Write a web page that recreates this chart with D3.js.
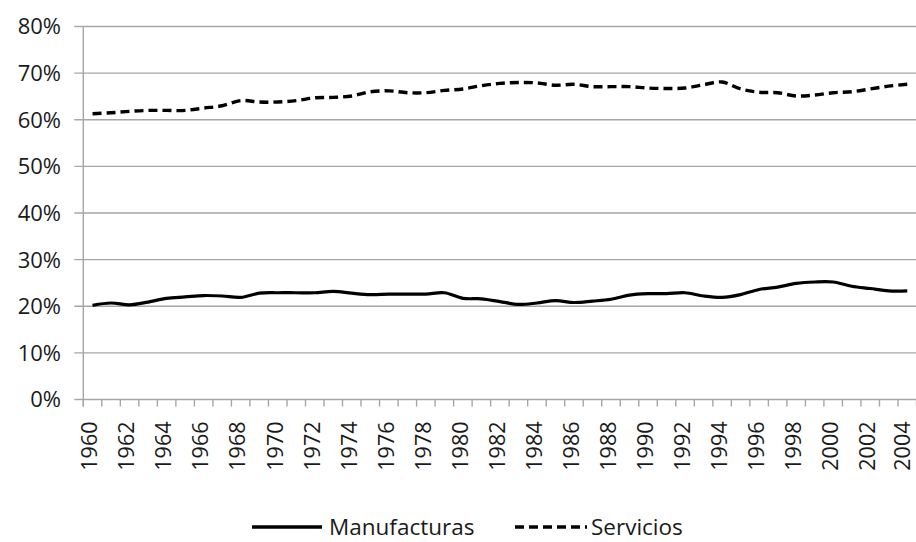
<!DOCTYPE html>
<html lang="es">
<head>
  <meta charset="UTF-8">
  <title>Manufacturas y Servicios</title>
  <script src="https://d3js.org/d3.v7.min.js"></script>
  <style>
    body {
      margin: 0;
      padding: 0;
      background: #fff;
      font-family: "Open Sans", "Noto Sans", sans-serif;
    }
    .tick-label { font-size: 22px; fill: #1a1a1a; }
    .year-label { font-size: 21.5px; fill: #1a1a1a; }
    .legend-label { font-size: 22.5px; fill: #1a1a1a; }
    .grid { stroke: #a6a6a6; stroke-width: 1.4; }
  </style>
</head>
<body>
  <svg id="chart" width="916" height="542"></svg>

  <script>
    const years = d3.range(1960, 2005);
    const yearLabels = years.filter(y => y % 2 === 0);
    const yTicks = [0, 0.1, 0.2, 0.3, 0.4, 0.5, 0.6, 0.7, 0.8];

    // shares, in percent
    const manufacturas = [
      20.2, 20.7, 20.3, 20.9, 21.7, 22.0, 22.3, 22.2, 21.9, 22.8,
      22.9, 22.9, 22.9, 23.2, 22.8, 22.5, 22.6, 22.6, 22.6, 22.9,
      21.7, 21.6, 21.0, 20.4, 20.7, 21.2, 20.8, 21.1, 21.5, 22.4,
      22.7, 22.7, 22.9, 22.2, 21.9, 22.5, 23.6, 24.1, 24.9, 25.2,
      25.2, 24.3, 23.8, 23.3, 23.3
    ];
    const servicios = [
      61.3, 61.5, 61.8, 62.0, 62.0, 62.0, 62.5, 63.0, 64.1, 63.8,
      63.8, 64.1, 64.7, 64.8, 65.1, 66.0, 66.2, 65.8, 65.8, 66.3,
      66.6, 67.3, 67.8, 68.0, 67.9, 67.4, 67.6, 67.1, 67.1, 67.1,
      66.8, 66.7, 66.8, 67.5, 68.1, 66.6, 65.9, 65.8, 65.1, 65.3,
      65.8, 66.0, 66.6, 67.2, 67.6
    ];

    const W = 916;
    const plotL = 83.3, plotR = 916.5, plotT = 26.5, plotB = 399.5;

    const svg = d3.select("#chart");

    const x = d3.scaleBand().domain(years).range([plotL, plotR]);
    const y = d3.scaleLinear().domain([0, 0.8]).range([plotB, plotT]);

    // gridlines (with small ticks left of the axis)
    svg.append("g")
      .selectAll("line")
      .data(yTicks)
      .enter().append("line")
      .attr("class", "grid")
      .attr("x1", plotL - 9)
      .attr("x2", plotR)
      .attr("y1", d => y(d))
      .attr("y2", d => y(d));

    svg.append("line")
      .attr("class", "grid")
      .attr("x1", plotL).attr("x2", plotL)
      .attr("y1", plotT).attr("y2", plotB + 7);

    // x ticks between categories
    const bounds = years.map(d => x(d)).concat([plotR]);
    svg.append("g")
      .selectAll("line")
      .data(bounds)
      .enter().append("line")
      .attr("class", "grid")
      .attr("x1", d => d).attr("x2", d => d)
      .attr("y1", plotB).attr("y2", plotB + 7);

    svg.append("g")
      .selectAll("text")
      .data(yTicks)
      .enter().append("text")
      .attr("class", "tick-label")
      .attr("x", 61)
      .attr("y", d => y(d))
      .attr("dy", "0.36em")
      .attr("text-anchor", "end")
      .text(d3.format(".0%"));

    // year labels, rotated; the last one is nudged so it stays inside the picture
    svg.append("g")
      .selectAll("text")
      .data(yearLabels)
      .enter().append("text")
      .attr("class", "year-label")
      .attr("dy", "0.34em")
      .attr("text-anchor", "end")
      .text(d => d)
      .each(function (d) {
        const b = this.getBBox();
        let cx = x(d) + x.bandwidth() / 2 - 2.5;
        const overflow = cx + b.y + b.height - (W - 0.5);
        if (overflow > 0) cx -= overflow;
        d3.select(this).attr("transform", `translate(${cx},${plotB + 22}) rotate(-90)`);
      });

    const line = d3.line()
      .x((d, i) => x(years[i]) + x.bandwidth() / 2)
      .y(d => y(d / 100))
      .curve(d3.curveCardinal.tension(0));

    svg.append("path")
      .datum(manufacturas)
      .attr("d", line)
      .attr("fill", "none")
      .attr("stroke", "#000")
      .attr("stroke-width", 3.2);

    svg.append("path")
      .datum(servicios)
      .attr("d", line)
      .attr("fill", "none")
      .attr("stroke", "#000")
      .attr("stroke-width", 3.4)
      .attr("stroke-dasharray", "9,5");

    // legend
    const legendY = 527;
    const legend = [
      { name: "Manufacturas", x1: 252, x2: 322, tx: 329, dash: null },
      { name: "Servicios", x1: 515, x2: 587, tx: 591, dash: "9,5" }
    ];
    legend.forEach(l => {
      svg.append("line")
        .attr("x1", l.x1).attr("x2", l.x2)
        .attr("y1", legendY).attr("y2", legendY)
        .attr("stroke", "#000")
        .attr("stroke-width", 3.4)
        .attr("stroke-dasharray", l.dash);
      svg.append("text")
        .attr("class", "legend-label")
        .attr("x", l.tx)
        .attr("y", legendY)
        .attr("dy", "0.36em")
        .text(l.name);
    });
  </script>
</body>
</html>
